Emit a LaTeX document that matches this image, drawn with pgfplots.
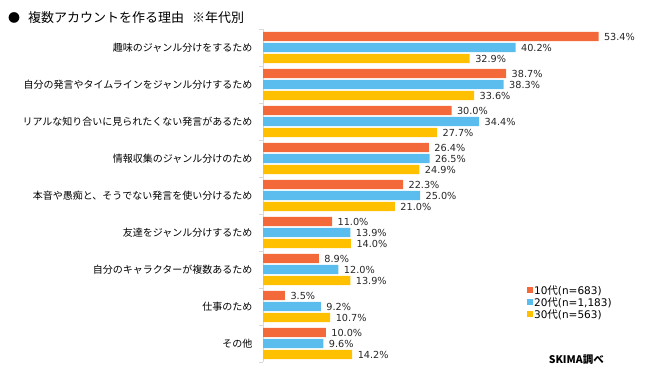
\documentclass[border=0pt]{standalone}
\usepackage{fontspec}
\setmainfont{Noto Sans CJK JP}
\newfontfamily\numfont{DejaVu Sans}
\usepackage{pgfplots}
\usepackage{pgfplotstable}
\pgfplotsset{compat=1.18}
\definecolor{cA}{HTML}{F4693A}
\definecolor{cB}{HTML}{5BBDEE}
\definecolor{cC}{HTML}{FFC000}
\definecolor{axg}{HTML}{D9D9D9}
\pgfplotstableread{
y a b c
0 53.4 40.2 32.9
1 38.7 38.3 33.6
2 30.0 34.4 27.7
3 26.4 26.5 24.9
4 22.3 25.0 21.0
5 11.0 13.9 14.0
6 8.9 12.0 13.9
7 3.5 9.2 10.7
8 10.0 9.6 14.2
}\data
\newcommand{\lgent}[2]{\strut{\numfont #1}代{\numfont #2}}
\begin{document}
\begin{tikzpicture}[x=1pt,y=1pt]
\useasboundingbox (0,0) rectangle (650,369);
\node[anchor=west,inner sep=0pt,font=\fontsize{13}{15}\selectfont] at (8,351) {{\fontsize{12}{14}\selectfont ●}\hspace{8pt}複数アカウントを作る理由\hspace{8pt}※年代別};
\begin{axis}[
  at={(263pt,7pt)}, anchor=south west,
  scale only axis, width=377pt, height=333pt,
  xmin=0, xmax=60,
  ymin=-0.5, ymax=8.5, y dir=reverse,
  axis x line=none,
  axis y line*=left,
  axis line style={axg, line width=0.8pt},
  ytick={0,...,8},
  yticklabels={趣味のジャンル分けをするため,自分の発言やタイムラインをジャンル分けするため,リアルな知り合いに見られたくない発言があるため,情報収集のジャンル分けのため,本音や愚痴と、そうでない発言を使い分けるため,友達をジャンル分けするため,自分のキャラクターが複数あるため,仕事のため,その他},
  major tick length=0pt,
  minor ytick={-0.5,0.5,...,8.5},
  minor tick length=4pt,
  tick align=outside,
  minor tick style={axg, line width=0.8pt},
  yticklabel style={font=\fontsize{10}{12}\selectfont, xshift=-7pt, anchor=east},
  /pgf/number format/assume math mode=true,
  xbar, bar width=0.25,
  nodes near coords={\pgfmathprintnumber[fixed,fixed zerofill,precision=1,assume math mode=true]{\pgfplotspointmeta}\%},
  point meta=x,
  every node near coord/.append style={font=\numfont\fontsize{9.7}{11}\selectfont, text=black!85, xshift=2pt},
  legend style={at={(0.70,0.236)}, anchor=north west, draw=none, fill=none,
    font=\fontsize{10.5}{12}\selectfont, row sep=-2.2pt, inner sep=0pt,
    /tikz/every even column/.append style={column sep=0pt},
    /tikz/every odd column/.append style={column sep=-1pt}},
  legend cell align=left,
  clip=false,
]
\addplot[draw=none, fill=cA, bar shift=-0.297,
  legend image code/.code={\fill[cA] (0pt,-2.5pt) rectangle (6pt,3.5pt);}] table[x=a,y=y]{\data};
\addplot[draw=none, fill=cB, bar shift=0,
  legend image code/.code={\fill[cB] (0pt,-2.5pt) rectangle (6pt,3.5pt);}] table[x=b,y=y]{\data};
\addplot[draw=none, fill=cC, bar shift=0.297,
  legend image code/.code={\fill[cC] (0pt,-2.5pt) rectangle (6pt,3.5pt);}] table[x=c,y=y]{\data};
\legend{\lgent{10}{(n=683)},{\lgent{20}{(n=1,183)}},\lgent{30}{(n=563)}}
\end{axis}
\node[anchor=east,inner sep=0pt,font=\bfseries\fontsize{10.5}{12}\selectfont] at (604,9) {SKIMA調べ};
\end{tikzpicture}
\end{document}
